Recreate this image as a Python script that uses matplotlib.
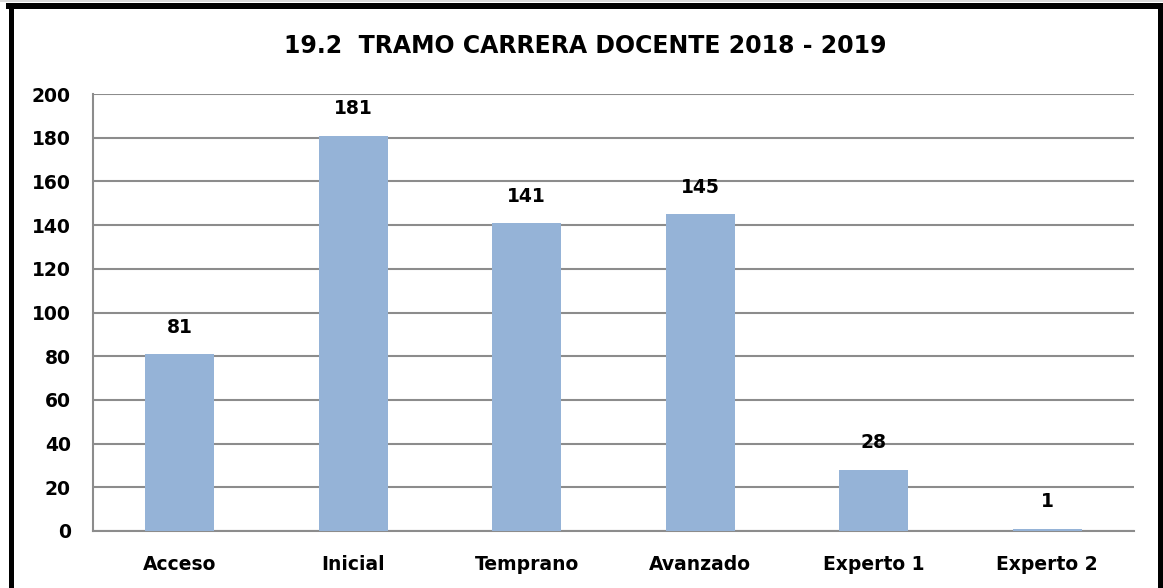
import matplotlib
matplotlib.use("Agg")
import matplotlib.pyplot as plt
from matplotlib.lines import Line2D

categories = ["Acceso", "Inicial", "Temprano", "Avanzado", "Experto 1", "Experto 2"]
values = [81, 181, 141, 145, 28, 1]
yticks = [0, 20, 40, 60, 80, 100, 120, 140, 160, 180, 200]
title = "19.2  TRAMO CARRERA DOCENTE 2018 - 2019"

FONT = "DejaVu Sans"
W, H = 1163, 588
fig = plt.figure(figsize=(W / 100, H / 100), dpi=100)
ax = fig.add_axes([93 / W, 1 - 531 / H, (1134 - 93) / W, (531 - 94) / H])

x = list(range(len(categories)))
ax.bar(x, values, width=0.4, color="#95b3d7", zorder=3)
ax.set_xlim(-0.5, len(categories) - 0.5)
ax.set_ylim(0, 200)
ax.set_yticks(yticks)
ax.yaxis.grid(True, color="#8c8c8c", linewidth=1.5, zorder=0)
ax.set_axisbelow(True)
for s in ["top", "right"]:
    ax.spines[s].set_visible(False)
for s in ["left", "bottom"]:
    ax.spines[s].set_color("#8c8c8c")
    ax.spines[s].set_linewidth(1.5)
ax.tick_params(length=0)
ax.tick_params(axis="y", pad=16)
ax.tick_params(axis="x", pad=17)
ax.set_xticks(x)
ax.set_xticklabels(categories, fontsize=13.5, fontweight="bold", family=FONT)
for lab in ax.get_yticklabels():
    lab.set_fontsize(13.5)
    lab.set_fontweight("bold")
    lab.set_family(FONT)

for xi, v in zip(x, values):
    ax.annotate(str(v), (xi, v), xytext=(0, 12.5), textcoords="offset points",
                ha="center", va="bottom", fontsize=13.5, fontweight="bold", family=FONT)

fig.text(585 / W, 1 - 46 / H, title, ha="center", va="center",
         fontsize=17, fontweight="bold", family=FONT)

# outer frame (left, top, right)
fig.add_artist(Line2D([0, 1], [1 - 1 / H, 1 - 1 / H], transform=fig.transFigure,
                      color="#d9d9d9", linewidth=2 * 0.72))
fig.add_artist(Line2D([11 / W, 11 / W], [0, 1 - 6 / H], transform=fig.transFigure,
                      color="black", linewidth=5 * 0.72))
fig.add_artist(Line2D([8.5 / W, 1162 / W], [1 - 6 / H, 1 - 6 / H], transform=fig.transFigure,
                      color="black", linewidth=6 * 0.72))
fig.add_artist(Line2D([1159.5 / W, 1159.5 / W], [0, 1 - 6 / H], transform=fig.transFigure,
                      color="black", linewidth=5 * 0.72))

fig.savefig("out.png", dpi=100)
